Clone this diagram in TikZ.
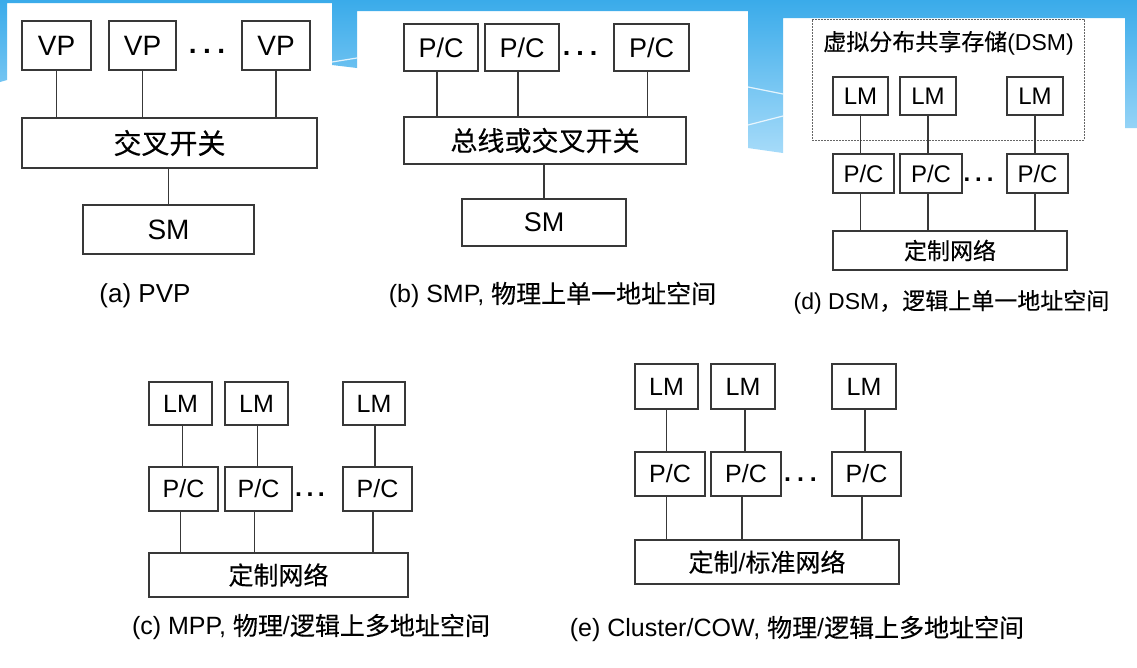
\documentclass[tikz,border=0pt]{standalone}
\usepackage{fontspec}
\setmainfont{Liberation Sans}
\newfontfamily\cjk[FakeBold=0.3]{Noto Sans CJK SC}
\usetikzlibrary{calc}
\definecolor{skyA}{HTML}{3AABEA}
\definecolor{skyB}{HTML}{A6DBF9}
\definecolor{edge}{HTML}{383838}
\newcommand\mydots[1]{.\hspace{#1}.\hspace{#1}.}
\tikzset{
  box/.style={draw=edge, line width=1.3pt, inner sep=0pt, fill=white},
  wire/.style={draw=edge, line width=1.3pt},
  fsz/.style={font=\fontsize{#1}{#1}\selectfont},
  dotsnode/.style={inner sep=0pt, font=\bfseries\fontsize{#1}{#1}\selectfont},
  stripe/.style={draw=white, line width=1.2pt, opacity=0.8}
}
\begin{document}
\begin{tikzpicture}[x=1pt,y=-1pt]
\useasboundingbox (0,0) rectangle (1137,667);
\fill[white] (0,0) rectangle (1137,667);
% background header
\shade[top color=skyA, bottom color=skyB]
  (0,0) -- (1137,0) -- (1137,128) -- (1125,128) -- (1125,18) -- (783,18)
  -- (783,153) -- (748,148) -- (748,11) -- (357,11) -- (357,68) -- (332,65)
  -- (332,3) -- (7,3) -- (7,80) -- (0,82) -- cycle;
\coordinate (s1a) at (748,87);  \coordinate (s1b) at (783,94);
\coordinate (s2a) at (748,125); \coordinate (s2b) at (783,116);
\coordinate (s3a) at (332,62);  \coordinate (s3b) at (357,58);
\draw[stripe] (s1a) -- (s1b);
\draw[stripe] (s2a) -- (s2b);
\draw[stripe] (s3a) -- (s3b);

% ---------------- (a) PVP
\node[box, fsz=28, minimum width=69pt, minimum height=49pt] (avp1) at (56.5,45.5) {VP};
\node[box, fsz=28, minimum width=67pt, minimum height=49pt] (avp2) at (142.5,45.5) {VP};
\node[box, fsz=28, minimum width=68pt, minimum height=49pt] (avp3) at (276,45.5) {VP};
\node[dotsnode=28] (adots) at (207,51) {\mydots{6.5pt}};
\node[box, fsz=28, minimum width=295pt, minimum height=50pt] (asw) at (169.5,143) {\cjk 交叉开关};
\node[box, fsz=28, minimum width=171pt, minimum height=49pt] (asm) at (168.5,229.5) {SM};
\draw[wire] (avp1.south) -- (avp1.south |- asw.north);
\draw[wire] (avp2.south) -- (avp2.south |- asw.north);
\draw[wire] (avp3.south) -- (avp3.south |- asw.north);
\draw[wire] (asm.north) -- (asm.north |- asw.south);
\node[fsz=26] (alab) at (145,296) {(a) PVP};

% ---------------- (b) SMP
\node[box, fsz=27, minimum width=74pt, minimum height=47pt] (bpc1) at (441,47.5) {P/C};
\node[box, fsz=27, minimum width=74pt, minimum height=47pt] (bpc2) at (522,47.5) {P/C};
\node[box, fsz=27, minimum width=75pt, minimum height=47pt] (bpc3) at (651.5,47.5) {P/C};
\node[dotsnode=27] (bdots) at (580,53) {\mydots{6pt}};
\node[box, fsz=27, minimum width=282pt, minimum height=47pt] (bbus) at (545,140.5) {\cjk 总线或交叉开关};
\node[box, fsz=27, minimum width=164pt, minimum height=47pt] (bsm) at (544,222.5) {SM};
\draw[wire] ($(bpc1.south)+(-4,0)$) -- ($(bpc1.south |- bbus.north)+(-4,0)$);
\draw[wire] ($(bpc2.south)+(-4,0)$) -- ($(bpc2.south |- bbus.north)+(-4,0)$);
\draw[wire] ($(bpc3.south)+(-4,0)$) -- ($(bpc3.south |- bbus.north)+(-4,0)$);
\draw[wire] (bsm.north) -- (bsm.north |- bbus.south);
\node[fsz=25] (blab) at (552.5,295) {(b) SMP, {\cjk 物理上单一地址空间}};

% ---------------- (d) DSM
\node[draw=black!60, line width=0.9pt, dash pattern=on 2pt off 1pt, inner sep=0pt,
      minimum width=272pt, minimum height=121pt] (dvsm) at (948,79.5) {};
\node[fsz=23] (dvt) at (948.5,43) {{\cjk 虚拟分布共享存储}(DSM)};
\node[box, fsz=24, minimum width=55pt, minimum height=38pt] (dlm1) at (860.5,96) {LM};
\node[box, fsz=24, minimum width=56pt, minimum height=38pt] (dlm2) at (928,96) {LM};
\node[box, fsz=24, minimum width=56pt, minimum height=38pt] (dlm3) at (1035,96) {LM};
\node[box, fsz=24, minimum width=61pt, minimum height=39pt] (dpc1) at (863.5,173.5) {P/C};
\node[box, fsz=24, minimum width=62pt, minimum height=39pt] (dpc2) at (931,173.5) {P/C};
\node[box, fsz=24, minimum width=61pt, minimum height=39pt] (dpc3) at (1037.5,173.5) {P/C};
\node[dotsnode=24] (ddots) at (978.5,180) {\mydots{5pt}};
\node[box, fsz=23, minimum width=234pt, minimum height=39pt] (dnet) at (950,250.5) {\cjk 定制网络};
\draw[wire] (dlm1.south) -- (dlm1.south |- dpc1.north);
\draw[wire] (dlm2.south) -- (dlm2.south |- dpc2.north);
\draw[wire] (dlm3.south) -- (dlm3.south |- dpc3.north);
\draw[wire] (dpc1.south -| dlm1) -- (dnet.north -| dlm1);
\draw[wire] (dpc2.south -| dlm2) -- (dnet.north -| dlm2);
\draw[wire] (dpc3.south -| dlm3) -- (dnet.north -| dlm3);
\node[fsz=23] (dlab) at (951.5,302) {(d) DSM{\cjk ，逻辑上单一地址空间}};

% ---------------- (c) MPP
\node[box, fsz=25, minimum width=63pt, minimum height=43pt] (clm1) at (180.5,403.5) {LM};
\node[box, fsz=25, minimum width=63pt, minimum height=43pt] (clm2) at (256.5,403.5) {LM};
\node[box, fsz=25, minimum width=62pt, minimum height=43pt] (clm3) at (374,403.5) {LM};
\node[box, fsz=25, minimum width=69pt, minimum height=44pt] (cpc1) at (183.5,489) {P/C};
\node[box, fsz=25, minimum width=67pt, minimum height=44pt] (cpc2) at (258.5,489) {P/C};
\node[box, fsz=25, minimum width=69pt, minimum height=44pt] (cpc3) at (377.5,489) {P/C};
\node[dotsnode=25] (cdots) at (310,495) {\mydots{4.5pt}};
\node[box, fsz=25, minimum width=259pt, minimum height=44pt] (cnet) at (278.5,575) {\cjk 定制网络};
\draw[wire] ($(clm1.south)+(2,0)$) -- ($(clm1.south |- cpc1.north)+(2,0)$);
\draw[wire] ($(clm2.south)+(1,0)$) -- ($(clm2.south |- cpc2.north)+(1,0)$);
\draw[wire] ($(clm3.south)+(1,0)$) -- ($(clm3.south |- cpc3.north)+(1,0)$);
\draw[wire] (cpc1.south -| clm1) -- (cnet.north -| clm1);
\draw[wire] ($(cpc2.south -| clm2)+(-2,0)$) -- ($(cnet.north -| clm2)+(-2,0)$);
\draw[wire] ($(cpc3.south -| clm3)+(-1,0)$) -- ($(cnet.north -| clm3)+(-1,0)$);
\node[fsz=25] (clab) at (311,627) {(c) MPP, {\cjk 物理}/{\cjk 逻辑上多地址空间}};

% ---------------- (e) Cluster/COW
\node[box, fsz=25, minimum width=63pt, minimum height=45pt] (elm1) at (666.5,386.5) {LM};
\node[box, fsz=25, minimum width=64pt, minimum height=45pt] (elm2) at (743,386.5) {LM};
\node[box, fsz=25, minimum width=64pt, minimum height=45pt] (elm3) at (864,386.5) {LM};
\node[box, fsz=25, minimum width=70pt, minimum height=44pt] (epc1) at (670,474) {P/C};
\node[box, fsz=25, minimum width=70pt, minimum height=44pt] (epc2) at (746,474) {P/C};
\node[box, fsz=25, minimum width=69pt, minimum height=44pt] (epc3) at (866.5,474) {P/C};
\node[dotsnode=25] (edots) at (800.5,480) {\mydots{6pt}};
\node[box, fsz=25, minimum width=264pt, minimum height=44pt] (enet) at (767,562) {{\cjk 定制}/{\cjk 标准网络}};
\draw[wire] (elm1.south) -- (elm1.south |- epc1.north);
\draw[wire] ($(elm2.south)+(2,0)$) -- ($(elm2.south |- epc2.north)+(2,0)$);
\draw[wire] ($(elm3.south)+(1,0)$) -- ($(elm3.south |- epc3.north)+(1,0)$);
\draw[wire] (epc1.south -| elm1) -- (enet.north -| elm1);
\draw[wire] ($(epc2.south -| elm2)+(-1,0)$) -- ($(enet.north -| elm2)+(-1,0)$);
\draw[wire] ($(epc3.south -| elm3)+(-2,0)$) -- ($(enet.north -| elm3)+(-2,0)$);
\node[fsz=25] (elab) at (797,629) {(e) Cluster/COW, {\cjk 物理}/{\cjk 逻辑上多地址空间}};
\end{tikzpicture}
\end{document}
